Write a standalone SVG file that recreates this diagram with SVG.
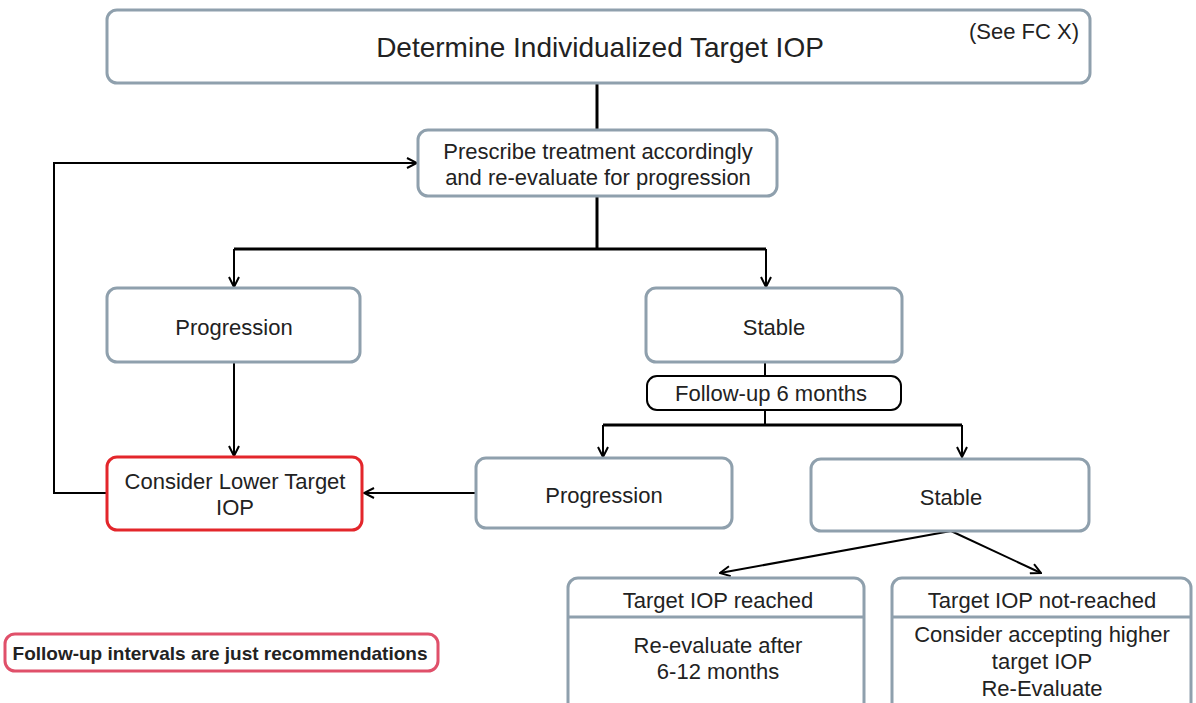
<svg xmlns="http://www.w3.org/2000/svg" width="1196" height="703" viewBox="0 0 1196 703">
<defs>
<marker id="arr" viewBox="0 0 12 12" refX="11" refY="6" markerWidth="12" markerHeight="12" markerUnits="userSpaceOnUse" orient="auto">
<path d="M1,1 L11,6 L1,11" fill="none" stroke="#000" stroke-width="2"/>
</marker>
<style>
.box{fill:#fff;stroke:#8fa0ad;stroke-width:3}
.red{fill:#fff;stroke:#e3262b;stroke-width:3}
.pill{fill:#fff;stroke:#000;stroke-width:2}
.note{fill:#fff;stroke:#e0506a;stroke-width:3}
.t{font-family:"Liberation Sans",Arial,sans-serif;fill:#222;text-anchor:middle;font-size:22px}
.c{fill:none;stroke:#000;stroke-width:2}
.c3{fill:none;stroke:#000;stroke-width:3}
.ca{fill:none;stroke:#000;stroke-width:2;marker-end:url(#arr)}
.sep{stroke:#8fa0ad;stroke-width:3}
</style>
</defs>
<rect width="1196" height="703" fill="#fff"/>
<g id="connectors">
<path class="c3" d="M597,83 V130"/>
<path class="c3" d="M597,196 V249"/>
<path class="c3" d="M234,249 H766"/>
<path class="ca" d="M234,249 V287"/>
<path class="ca" d="M766,249 V287"/>
<path class="c" d="M765,362 V376"/>
<path class="c" d="M765,410 V425"/>
<path class="c3" d="M603,425 H962"/>
<path class="ca" d="M603,425 V457"/>
<path class="ca" d="M962,425 V457"/>
<path class="ca" d="M234,362 V456"/>
<path class="ca" d="M476,493 H364"/>
<path class="ca" d="M107,493 H54 V163 H417"/>
<path class="ca" d="M951,531 L720,573"/>
<path class="ca" d="M951,531 L1041,573"/>
</g>
<g id="n-top">
<rect class="box" x="107" y="10" width="983" height="73" rx="10"/>
<text class="t" x="600" y="57" style="font-size:28px">Determine Individualized Target IOP</text>
<text class="t" x="1024" y="39">(See FC X)</text>
</g>
<g id="n-prescribe">
<rect class="box" x="418" y="130" width="359" height="66" rx="10"/>
<text class="t" x="598" y="159">Prescribe treatment accordingly</text>
<text class="t" x="598" y="185">and re-evaluate for progression</text>
</g>
<g id="n-progression1">
<rect class="box" x="107" y="288" width="253" height="74" rx="10"/>
<text class="t" x="234" y="335">Progression</text>
</g>
<g id="n-stable1">
<rect class="box" x="646" y="288" width="256" height="74" rx="10"/>
<text class="t" x="774" y="335">Stable</text>
</g>
<g id="n-followup">
<rect class="pill" x="647" y="376" width="254" height="34" rx="10"/>
<text class="t" x="771" y="401">Follow-up 6 months</text>
</g>
<g id="n-progression2">
<rect class="box" x="476" y="458" width="256" height="70" rx="10"/>
<text class="t" x="604" y="503">Progression</text>
</g>
<g id="n-stable2">
<rect class="box" x="811" y="459" width="278" height="72" rx="10"/>
<text class="t" x="951" y="505">Stable</text>
</g>
<g id="n-lower">
<rect class="red" x="107" y="457" width="255" height="73" rx="10"/>
<text class="t" x="235" y="489">Consider Lower Target</text>
<text class="t" x="235" y="515">IOP</text>
</g>
<g id="n-reached">
<rect class="box" x="568" y="578" width="296" height="140" rx="10"/>
<line class="sep" x1="568" y1="617" x2="864" y2="617"/>
<text class="t" x="718" y="608">Target IOP reached</text>
<text class="t" x="718" y="653">Re-evaluate after</text>
<text class="t" x="718" y="679">6-12 months</text>
</g>
<g id="n-notreached">
<rect class="box" x="892" y="578" width="299" height="140" rx="10"/>
<line class="sep" x1="892" y1="617" x2="1191" y2="617"/>
<text class="t" x="1042" y="608">Target IOP not-reached</text>
<text class="t" x="1042" y="642">Consider accepting higher</text>
<text class="t" x="1042" y="669">target IOP</text>
<text class="t" x="1042" y="696">Re-Evaluate</text>
</g>
<g id="n-note">
<rect class="note" x="5" y="634" width="433" height="37" rx="10"/>
<text class="t" x="220" y="660" style="font-size:19px;font-weight:bold">Follow-up intervals are just recommendations</text>
</g>
</svg>
